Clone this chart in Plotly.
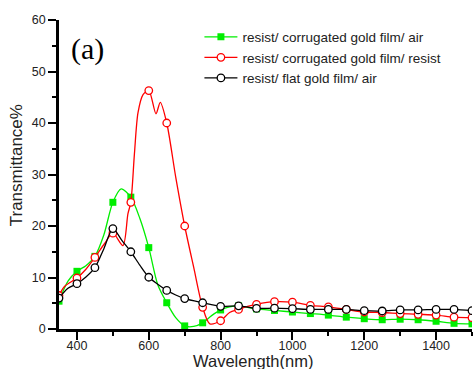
import plotly.graph_objects as go

# ---- data ----
green_wl = [350, 375, 400, 425, 450, 475, 500, 523, 550, 575, 600, 625, 650, 675, 700, 725,
            750, 775, 800, 825, 850, 875, 900, 950, 1000, 1050, 1100, 1150, 1200, 1250,
            1300, 1350, 1400, 1450, 1500]
green_T = [5.4, 9.3, 11.2, 12.3, 14.1, 18.3, 24.6, 27.2, 25.6, 21.5, 15.8, 8.6, 5.1, 2.2, 0.6, 0.5,
           1.2, 2.6, 3.7, 4.3, 4.5, 4.2, 3.9, 3.6, 3.3, 3.0, 2.7, 2.3, 2.0, 1.8,
           1.9, 1.8, 1.5, 1.1, 1.0]

red_wl = [350, 366, 400, 425, 450, 477, 500, 528, 542, 550, 560, 570, 584, 600, 620, 632, 650,
          675, 700, 725, 750, 770, 800, 825, 850, 875, 900, 950, 1000, 1050, 1100, 1150,
          1200, 1250, 1300, 1350, 1400, 1450, 1500]
red_T = [6.5, 8.3, 9.9, 11.6, 13.9, 16.6, 18.6, 16.2, 22.4, 24.6, 34.0, 42.0, 45.5, 46.3, 41.8, 44.0, 40.0,
         29.5, 20.0, 12.0, 4.2, 1.0, 1.6, 3.2, 3.8, 4.4, 4.8, 5.3, 5.2, 4.6, 4.3, 3.8,
         3.3, 3.2, 3.0, 2.85, 2.7, 2.3, 2.2]

black_wl = [350, 375, 400, 425, 450, 475, 500, 525, 550, 575, 600, 625, 650, 675, 700, 750,
            800, 850, 900, 950, 1000, 1050, 1100, 1150, 1200, 1250, 1300, 1350, 1400, 1450, 1500]
black_T = [6.0, 7.9, 8.8, 10.1, 11.9, 15.6, 19.5, 17.2, 15.0, 12.4, 10.05, 8.7, 7.5, 6.6, 5.9, 5.1,
           4.4, 4.5, 4.0, 4.05, 3.95, 3.8, 3.8, 3.8, 3.55, 3.5, 3.7, 3.7, 3.8, 3.8, 3.55]

series_names = ["resist/ corrugated gold film/ air",
                "resist/ corrugated gold film/ resist",
                "resist/ flat gold film/ air"]
series_colors = ["#00ee00", "#ff0000", "#000000"]
marker_step = 50

x_ticks = [400, 600, 800, 1000, 1200, 1400]
y_ticks = [0, 10, 20, 30, 40, 50, 60]

FONT = "Liberation Sans, Arial, sans-serif"

fig = go.Figure()

series = [(green_wl, green_T), (red_wl, red_T), (black_wl, black_T)]
symbols = ["square", "circle-open", "circle-open"]


def marker_style(sym, col):
    if sym == "square":
        return dict(symbol="square", size=7, color=col, line=dict(width=0))
    return dict(symbol="circle", size=7.5, color="white", line=dict(color=col, width=1.3))


for (wl, T), name, col, sym in zip(series, series_names, series_colors, symbols):
    fig.add_trace(go.Scatter(x=wl, y=T, mode="lines",
                             line=dict(color=col, width=1.3, shape="spline", smoothing=0.8),
                             showlegend=False, hoverinfo="skip"))
    mx = [w for w in wl if w % marker_step == 0]
    my = [t for w, t in zip(wl, T) if w % marker_step == 0]
    fig.add_trace(go.Scatter(x=mx, y=my, mode="markers", marker=marker_style(sym, col), showlegend=False))

for name, col, sym in zip(series_names, series_colors, symbols):
    fig.add_trace(go.Scatter(x=[None], y=[None], mode="lines+markers", name=name,
                             line=dict(color=col, width=1.3), marker=marker_style(sym, col)))

axis_common = dict(showgrid=False, zeroline=False, showline=True, linecolor="black", linewidth=2.5,
                   tickcolor="black", tickwidth=2,
                   tickfont=dict(family=FONT, size=12.5, color="#222"))

fig.update_layout(
    width=473, height=369,
    margin=dict(l=59, r=1, t=20, b=40),
    paper_bgcolor="white", plot_bgcolor="white",
    xaxis=dict(range=[350, 1500], tickvals=x_ticks, ticks="outside", ticklen=8, ticklabelstandoff=-5,
               minor=dict(dtick=100, tick0=400, ticks="outside", ticklen=4, tickwidth=2, tickcolor="black"),
               **axis_common),
    yaxis=dict(range=[0, 60], tickvals=y_ticks, ticks="outside", ticklen=8,
               minor=dict(dtick=5, tick0=0, ticks="outside", ticklen=4, tickwidth=2, tickcolor="black"),
               **axis_common),
    xaxis2=dict(range=[350, 1500], overlaying="x", side="top", anchor="y", tickvals=x_ticks,
                ticks="inside", ticklen=6, showticklabels=False,
                minor=dict(dtick=100, tick0=400, ticks="inside", ticklen=4, tickwidth=2, tickcolor="black"),
                **axis_common),
    yaxis2=dict(range=[0, 60], overlaying="y", side="right", anchor="x", tickvals=y_ticks,
                ticks="inside", ticklen=6, showticklabels=False,
                minor=dict(dtick=5, tick0=0, ticks="inside", ticklen=4, tickwidth=2, tickcolor="black"),
                **axis_common),
    legend=dict(x=0.34, y=0.995, xanchor="left", yanchor="top", bgcolor="rgba(0,0,0,0)",
                itemwidth=33, font=dict(family=FONT, size=13.5, color="#222"),
                tracegroupgap=0),
    annotations=[
        dict(text="Wavelength(nm)", x=0.47, y=-0.102, xref="paper", yref="paper",
             showarrow=False, xanchor="center", yanchor="middle", borderpad=0,
             font=dict(family=FONT, size=16.5, color="#222")),
        dict(text="Transmittance%", x=-0.104, y=0.53, xref="paper", yref="paper",
             showarrow=False, xanchor="center", yanchor="middle", textangle=-90,
             font=dict(family=FONT, size=17, color="#222")),
        dict(text="(a)", x=0.068, y=0.906, xref="paper", yref="paper",
             showarrow=False, xanchor="center", yanchor="middle",
             font=dict(family="Liberation Serif, Times New Roman, serif", size=30, color="black")),
    ],
)

fig.write_html("out.html", config={"displayModeBar": False},
               post_script="document.body.style.margin='0';")
